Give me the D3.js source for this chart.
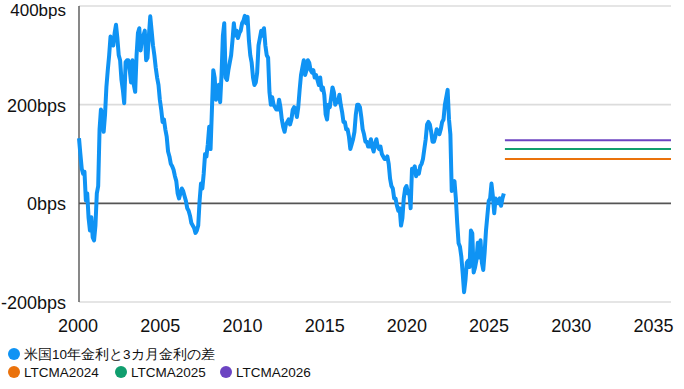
<!DOCTYPE html>
<html>
<head>
<meta charset="utf-8">
<script src="https://cdn.jsdelivr.net/npm/d3@7"></script>
<style>
  body { margin: 0; background: #fff; }
  text { font-family: "Liberation Sans", Arial, sans-serif; fill: #111; }
</style>
</head>
<body>
<svg></svg>
<script>
// 米国10年金利と3カ月金利の差 (bps), monthly from Jan 2000
let startYear = 2000;
let spread = [
  132, 100, 70, 60, 64, 6, 20, -30, -55, -28, -69, -75,          // 2000
  -45, 20, 35, 150, 190, 180, 145, 180, 236, 270, 300, 338,       // 2001
  330, 320, 345, 362, 335, 300, 290, 250, 230, 203, 286, 290,     // 2002
  290, 270, 245, 290, 240, 226, 300, 345, 355, 310, 335, 340,     // 2003
  350, 290, 295, 340, 379, 350, 320, 300, 275, 255, 240, 210,     // 2004
  190, 165, 170, 150, 135, 105, 95, 80, 75, 68, 55, 45,           // 2005
  20, 10, 20, 30, 25, 15, 5, -10, -15, -25, -40, -45,             // 2006
  -50, -60, -55, -45, 5, 40, 30, 60, 100, 95, 120, 155,           // 2007
  110, 190, 270, 255, 210, 235, 240, 205, 260, 340, 365, 255,     // 2008
  250, 270, 285, 300, 330, 365, 340, 350, 335, 345, 350, 365,     // 2009
  370, 380, 365, 378, 330, 300, 285, 255, 240, 245, 265, 320,     // 2010
  335, 350, 340, 355, 320, 300, 295, 225, 200, 215, 200, 195,     // 2011
  190, 190, 210, 195, 170, 155, 145, 160, 165, 170, 160, 170,     // 2012
  190, 195, 190, 175, 195, 230, 260, 275, 290, 260, 270, 290,     // 2013
  285, 270, 265, 270, 255, 260, 250, 240, 255, 230, 235, 220,     // 2014
  180, 170, 200, 195, 215, 235, 225, 200, 210, 205, 220, 200,     // 2015
  185, 165, 165, 150, 150, 135, 110, 120, 130, 145, 180, 200,     // 2016
  200, 195, 175, 150, 140, 125, 125, 115, 115, 130, 115, 105,     // 2017
  120, 130, 115, 110, 115, 100, 95, 90, 90, 95, 80, 50,           // 2018
  35, 30, 10, 10, -5, -15, -10, -45, -30, 10, 30, 35,             // 2019
  20, 25, -10, 70, 65, 75, 55, 65, 60, 75, 80, 90,                // 2020
  110, 130, 160, 165, 160, 145, 125, 125, 135, 150, 145, 140,     // 2021
  150, 165, 170, 200, 215, 230, 170, 140, 25, 40, 45, 10,         // 2022
  -40, -81, -88, -108, -142, -180, -156, -120, -116, -129, -55, -61, // 2023
  -140, -130, -115, -80, -110, -75, -120, -135, -100, -55, -25, 5, // 2024
  10, 40, 15, -20, 10, 5, 0, 10, -5, 10, 20                       // 2025
];

let ltcmaNames = ["LTCMA2024", "LTCMA2025", "LTCMA2026"];
let ltcmaValues = [90, 110, 128];
let ltcmaColors = ["#ea720c", "#109e6e", "#6c44c2"];
let ltcmaFrom = 2025.9;
let ltcmaTo = 2036;

let spreadName = "米国10年金利と3カ月金利の差";
let spreadColor = "#0f93f4";

let xTicks = [2000, 2005, 2010, 2015, 2020, 2025, 2030, 2035];
let yTicks = [-200, 0, 200, 400];

let svgWidth = 684;
let svgHeight = 389;

let svg = d3.select("svg")
  .attr("width", svgWidth)
  .attr("height", svgHeight);

let xScale = d3.scaleLinear().domain([2000, 2036]).range([79, 671]);
let yScale = d3.scaleLinear().domain([-200, 400]).range([302, 6]);

// grid lines
svg.selectAll(".grid")
  .data(yTicks)
  .enter()
  .append("line")
  .attr("x1", xScale(2000))
  .attr("x2", xScale(2036))
  .attr("y1", d => yScale(d))
  .attr("y2", d => yScale(d))
  .attr("stroke", d => d === 0 ? "#555" : "#dcdcdc")
  .attr("stroke-width", 1.6);

// left axis line
svg.append("line")
  .attr("x1", xScale(2000)).attr("x2", xScale(2000))
  .attr("y1", yScale(400)).attr("y2", yScale(-200))
  .attr("stroke", "#555")
  .attr("stroke-width", 1.4);

// y labels
svg.selectAll(".ylab")
  .data(yTicks)
  .enter()
  .append("text")
  .attr("x", 66)
  .attr("y", d => Math.max(yScale(d) + 7, 16))
  .attr("text-anchor", "end")
  .style("font-size", d => d === 400 ? "17px" : "18px")
  .text(d => d + "bps");

// x labels
svg.selectAll(".xlab")
  .data(xTicks)
  .enter()
  .append("text")
  .attr("x", d => xScale(d) - 1)
  .attr("y", 332)
  .attr("text-anchor", "middle")
  .style("font-size", "18px")
  .text(d => d);

// LTCMA lines
svg.selectAll(".ltcma")
  .data(ltcmaValues)
  .enter()
  .append("line")
  .attr("x1", xScale(ltcmaFrom))
  .attr("x2", xScale(ltcmaTo))
  .attr("y1", d => yScale(d))
  .attr("y2", d => yScale(d))
  .attr("stroke", (d, i) => ltcmaColors[i])
  .attr("stroke-width", 2);

// spread line
let line = d3.line()
  .x((d, i) => xScale(startYear + i / 12))
  .y(d => yScale(d));

svg.append("path")
  .datum(spread)
  .attr("d", line)
  .attr("fill", "none")
  .attr("stroke", spreadColor)
  .attr("stroke-width", 4)
  .attr("stroke-linejoin", "round");

// legend
let legend1 = svg.append("g").attr("transform", "translate(14,354)");
legend1.append("circle").attr("r", 6).attr("fill", spreadColor);
legend1.append("text").attr("x", 10).attr("y", 5)
  .style("font-size", "13.5px").text(spreadName);

let legendX = [14, 121, 226];
let legend2 = svg.selectAll(".leg2")
  .data(ltcmaNames)
  .enter()
  .append("g")
  .attr("transform", (d, i) => "translate(" + legendX[i] + ",372)");
legend2.append("circle").attr("r", 6).attr("fill", (d, i) => ltcmaColors[i]);
legend2.append("text").attr("x", 10).attr("y", 5)
  .style("font-size", "13.5px").text(d => d);
</script>
</body>
</html>
